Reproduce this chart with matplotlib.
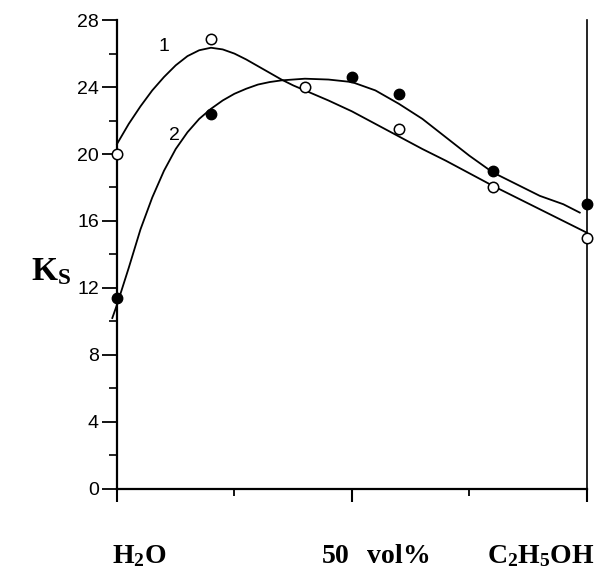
import numpy as np
import matplotlib
matplotlib.use('Agg')
import matplotlib.pyplot as plt
from matplotlib.ticker import MultipleLocator, FixedLocator

# measured points (vol% ethanol, Ks)
x_pts = [0, 20, 40, 60, 80, 100]
ks_open = [20.0, 26.9, 24.0, 21.5, 18.0, 15.0]
x_pts2 = [0, 20, 50, 60, 80, 100]
ks_filled = [11.4, 22.4, 24.6, 23.6, 19.0, 17.0]

# fitted curves
curve1_x = [0, 2.5, 5, 7.5, 10, 12.5, 15, 17.5, 20, 22.5, 25, 27.5, 30, 32.5, 35, 37.5, 40,
            45, 50, 55, 60, 65, 70, 75, 80, 85, 90, 95, 100]
curve1_y = [20.6, 21.8, 22.85, 23.8, 24.6, 25.3, 25.85, 26.2, 26.35, 26.25, 26.0, 25.65, 25.25, 24.85, 24.45, 24.1, 23.8,
            23.2, 22.55, 21.8, 21.05, 20.3, 19.6, 18.85, 18.1, 17.4, 16.7, 16.0, 15.3]
curve2_x = [-1, 0, 2.5, 5, 7.5, 10, 12.5, 15, 17.5, 20, 22.5, 25, 27.5, 30, 32.5, 35, 40,
            45, 50, 55, 60, 65, 70, 75, 80, 85, 90, 95, 98.5]
curve2_y = [10.2, 11.0, 13.2, 15.5, 17.4, 19.0, 20.3, 21.3, 22.1, 22.7, 23.2, 23.6, 23.9, 24.15, 24.3, 24.4, 24.5,
            24.45, 24.3, 23.8, 23.0, 22.1, 21.0, 19.9, 18.9, 18.2, 17.5, 17.0, 16.5]

y_ticks = [0, 4, 8, 12, 16, 20, 24, 28]

plt.rcParams['mathtext.fontset'] = 'custom'
plt.rcParams['mathtext.rm'] = 'Liberation Serif'
plt.rcParams['mathtext.bf'] = 'Liberation Serif:bold'

fig = plt.figure(figsize=(6, 5.75), dpi=100)
ax = fig.add_axes([0.195, 0.15, 0.783, 0.815])

ax.plot(curve1_x, curve1_y, color='black', lw=1.3, clip_on=False)
ax.plot(curve2_x, curve2_y, color='black', lw=1.3, clip_on=False)
ax.plot(x_pts, ks_open, 'o', mfc='white', mec='black', mew=1.1, ms=7.5, clip_on=False, zorder=5)
ax.plot(x_pts2, ks_filled, 'o', mfc='black', mec='black', ms=7.5, clip_on=False, zorder=5)

ax.set_xlim(0, 100)
ax.set_ylim(0, 28)
ax.spines['top'].set_visible(False)
for s in ['left', 'bottom', 'right']:
    ax.spines[s].set_linewidth(1.6)
ax.spines['right'].set_linewidth(1.2)

ax.yaxis.set_major_locator(FixedLocator(y_ticks))
ax.yaxis.set_minor_locator(MultipleLocator(2))
ax.set_yticklabels([str(t) for t in y_ticks], fontsize=14, family='Liberation Sans')
ax.tick_params(axis='y', which='major', length=11, width=1.3, direction='out', pad=2)
ax.tick_params(axis='y', which='minor', length=6, width=1.2, direction='out')

ax.xaxis.set_major_locator(FixedLocator([0, 50, 100]))
ax.xaxis.set_minor_locator(FixedLocator([25, 75]))
ax.set_xticklabels([])
ax.tick_params(axis='x', which='major', length=9, width=1.5, direction='out')
ax.tick_params(axis='x', which='minor', length=5, width=1.3, direction='out')

ax.text(10, 26.4, '1', fontsize=14, family='Liberation Sans', ha='center', va='center')
ax.text(12.2, 21.1, '2', fontsize=14, family='Liberation Sans', ha='center', va='center')

fig.text(0.085, 0.53, r'$\mathbf{K_S}$', fontsize=24, ha='center', va='center')
fig.text(0.232, 0.035, r'$\mathbf{H_2O}$', fontsize=20, ha='center', va='center')
fig.text(0.625, 0.035, r'$\mathbf{50\ \ vol\%}$', fontsize=20, ha='center', va='center')
fig.text(0.902, 0.035, r'$\mathbf{C_2H_5OH}$', fontsize=20, ha='center', va='center')

fig.savefig('out.png', dpi=100)
